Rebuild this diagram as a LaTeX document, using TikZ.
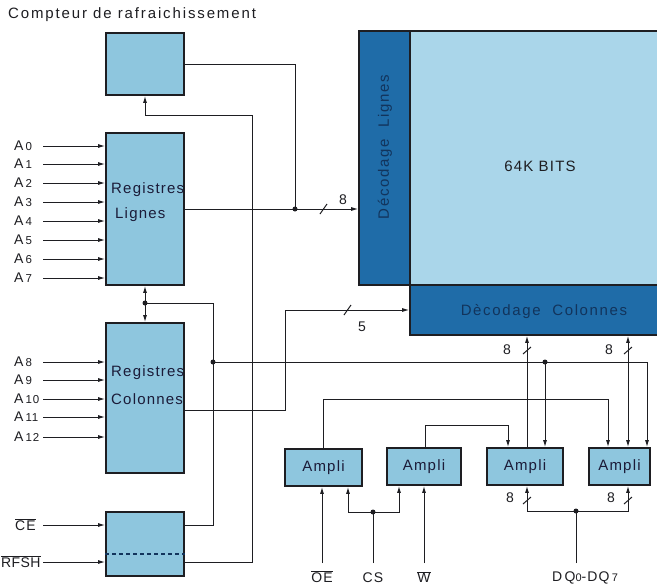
\documentclass[tikz,border=0pt]{standalone}
\usepackage{fontspec}
\setmainfont{Liberation Sans}[LetterSpace=8]
\usetikzlibrary{arrows.meta,calc}
\definecolor{boxblue}{RGB}{142,198,222}
\definecolor{arrblue}{RGB}{170,214,234}
\definecolor{decblue}{RGB}{31,108,168}
\definecolor{dectext}{RGB}{18,52,92}
\definecolor{ink}{RGB}{30,30,34}
\begin{document}
\begin{tikzpicture}[x=1pt,y=-1pt,
  >={Latex[length=7pt,width=4pt]},
  blk/.style={draw=ink, line width=1.8pt, fill=boxblue, inner sep=0pt, rectangle},
  decbox/.style={draw=ink, line width=1.6pt, fill=decblue, inner sep=0pt, rectangle},
  wire/.style={draw=ink, line width=1pt},
  jdot/.style={circle, fill=ink, inner sep=0pt, minimum size=5pt},
  lbl/.style={font=\fontsize{14}{14}\selectfont, text=ink, inner sep=0pt},
  boxtxt/.style={font=\fontsize{15}{15}\selectfont, text=ink!90!blue, inner sep=0pt},
  dtxt/.style={font=\fontsize{15}{15}\selectfont\addfontfeatures{LetterSpace=11}, text=dectext, inner sep=0pt}]
\useasboundingbox (0,0) rectangle (657,587);
\fill[white] (0,0) rectangle (657,587);

% ---- memory array and decoders
\node[draw=ink, line width=1.6pt, fill=arrblue, rectangle, inner sep=0pt,
      minimum width=254pt, minimum height=254pt] (arr) at (537,158) {};
\node[decbox, minimum width=51pt, minimum height=254pt] (decL) at (384.5,158) {};
\node[decbox, minimum width=254pt, minimum height=50pt] (decC) at (537,310) {};
\node[lbl, font=\fontsize{15}{15}\selectfont] (bits) at (540,166) {64K BITS};
\node[dtxt, rotate=90] (decLt) at (385,147) {Décodage\ \ Lignes};
\node[dtxt] (decCt) at (544,312) {Dècodage\ \ Colonnes};

% ---- left blocks
\node[blk, minimum width=78pt, minimum height=62pt] (cnt) at (145,64) {};
\node[blk, minimum width=78pt, minimum height=152pt] (rl) at (145,209) {};
\node[blk, minimum width=78pt, minimum height=150pt] (rc) at (145,398) {};
\node[blk, minimum width=78pt, minimum height=64pt] (ctl) at (145,544) {};
\coordinate (dl) at (0,554);
\draw[draw=dectext, line width=1.5pt, dash pattern=on 4pt off 3pt]
  (ctl.west |- dl) -- (ctl.east |- dl);

\node[lbl, anchor=west, font=\fontsize{15}{15}\selectfont\addfontfeatures{LetterSpace=12.5}] (title) at (8,15) {Compteur de rafraichissement};
\node[boxtxt, anchor=west] (rlt1) at (111,190) {Registres};
\node[boxtxt, anchor=west] (rlt2) at (115,215) {Lignes};
\node[boxtxt, anchor=west] (rct1) at (111,373) {Registres};
\node[boxtxt, anchor=west] (rct2) at (111,399) {Colonnes};

% ---- amplifiers
\node[blk, minimum width=77pt, minimum height=37pt] (amp1) at (323.5,467.5) {};
\node[blk, minimum width=74pt, minimum height=37pt] (amp2) at (424,466.5) {};
\node[blk, minimum width=76pt, minimum height=37pt] (amp3) at (525,466.5) {};
\node[blk, minimum width=61pt, minimum height=37pt] (amp4) at (619.5,466.5) {};
\foreach \n in {amp1,amp2,amp3,amp4} {
  \node[boxtxt] (\n t) at (\n.center) {Ampli};
}

% ---- address inputs
\foreach \i/\y in {0/146,1/164,2/183,3/202,4/221,5/240,6/259,7/278,8/362,9/380,10/399,11/417,12/437} {
  \coordinate (a\i) at (43,\y);
  \node[lbl, anchor=west] (la\i) at (14,\y) {A\hspace{2pt}{\fontsize{11.5}{11.5}\selectfont\i}};
}
\foreach \i in {0,...,7} { \draw[wire,->] (a\i) -- (a\i -| rl.west); }
\foreach \i in {8,...,12} { \draw[wire,->] (a\i) -- (a\i -| rc.west); }

\coordinate (cein) at (43,525);
\coordinate (rfshin) at (43,562);
\node[lbl, anchor=west] (lce) at (15,525) {$\overline{\mbox{CE}}$};
\node[lbl, anchor=west, font=\fontsize{14}{14}\selectfont\addfontfeatures{LetterSpace=3}] (lrfsh) at (1,562) {$\overline{\mbox{RFSH}}$};
\draw[wire,->] (cein) -- (cein -| ctl.west);
\draw[wire,->] (rfshin) -- (rfshin -| ctl.west);

% ---- row address path
\coordinate (j1) at (295,209);
\draw[wire] (cnt.east) -| (j1);
\draw[wire,->] (rl.east) -- (rl.east -| decL.west);
\node[jdot] (d1) at (j1) {};
\draw[wire] (320,214) -- (327,204);
\node[lbl] (n8a) at (343,200) {8};

% ---- refresh line to counter
\coordinate (r1) at (252,115);
\draw[wire,->] (ctl.east |- rfshin) -| (r1) -| (cnt.south);

% ---- CE line to registers
\coordinate (j0) at (145,303);
\coordinate (c1) at (213,303);
\draw[wire] (ctl.east |- cein) -| (c1) -- (j0);
\draw[wire,->] (j0) -- (rl.south);
\draw[wire,->] (j0) -- (rc.north);
\node[jdot] (d0) at (j0) {};

% ---- CE control to amplifiers 3 and 4
\coordinate (j2) at (213,362);
\coordinate (j3) at (545,362);
\coordinate (k4) at (647,362);
\draw[wire,->] (j2) -- (k4) -- (k4 |- amp4.north);
\draw[wire,->] (j3) -- (j3 |- amp3.north);
\node[jdot] (d2) at (j2) {};
\node[jdot] (d3) at (j3) {};

% ---- column address path
\coordinate (c6) at (285,410);
\coordinate (c5) at (285,310);
\draw[wire,->] (rc.east |- c6) -- (c6) -- (c5) -- (c5 -| decC.west);
\draw[wire] (344,315) -- (351,305);
\node[lbl] (n5) at (362,327) {5};

% ---- amplifier interconnections
\coordinate (c7) at (323,399);
\coordinate (c8) at (608,399);
\draw[wire,->] (amp1.north -| c7) -- (c7) -- (c8) -- (c8 |- amp4.north);
\coordinate (c9) at (425,425);
\coordinate (c10) at (508,425);
\draw[wire,->] (amp2.north -| c9) -- (c9) -- (c10) -- (c10 |- amp3.north);

% ---- data paths to column decoder
\coordinate (c11) at (527,511);
\coordinate (c12) at (628,511);
\draw[wire,->] (amp3.north -| c11) -- (decC.south -| c11);
\draw[wire,<->] (amp4.north -| c12) -- (decC.south -| c12);
\draw[wire] (523,354) -- (531,347);
\draw[wire] (624,354) -- (632,347);
\node[lbl] (n8b) at (507,350) {8};
\node[lbl] (n8c) at (609,350) {8};

% ---- data bus DQ
\coordinate (dq) at (576,563);
\coordinate (j4) at (576,511);
\draw[wire] (dq) -- (j4);
\draw[wire,->] (j4) -- (c11) -- (c11 |- amp3.south);
\draw[wire,->] (j4) -- (c12) -- (c12 |- amp4.south);
\node[jdot] (d4) at (j4) {};
\draw[wire] (523,504) -- (531,497);
\draw[wire] (624,504) -- (632,497);
\node[lbl] (n8d) at (510,498) {8};
\node[lbl] (n8e) at (611,498) {8};

% ---- control inputs
\coordinate (oe) at (322,563);
\coordinate (cs) at (373,563);
\coordinate (j5) at (373,512);
\coordinate (c13) at (348,512);
\coordinate (c14) at (399,512);
\coordinate (wr) at (424,563);
\draw[wire,->] (oe) -- (oe |- amp1.south);
\draw[wire,->] (cs) -- (j5) -- (c13) -- (c13 |- amp1.south);
\draw[wire,->] (j5) -- (c14) -- (c14 |- amp2.south);
\draw[wire,->] (wr) -- (wr |- amp2.south);
\node[jdot] (d5) at (j5) {};

\node[lbl] (loe) at (322,577) {$\overline{\mbox{OE}}$};
\node[lbl] (lcs) at (373,578) {CS};
\node[lbl] (lw) at (424,577) {$\overline{\mbox{W}}$};
\node[lbl, anchor=west] (ldq) at (552,578) {D\,Q{\fontsize{11}{11}\selectfont 0}-DQ\,{\fontsize{11}{11}\selectfont 7}};
\end{tikzpicture}
\end{document}
